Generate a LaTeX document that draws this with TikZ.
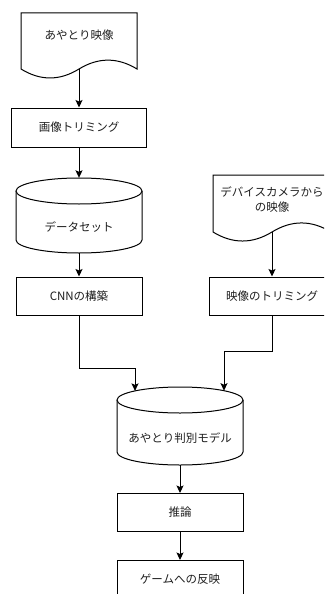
\documentclass[tikz,border=0pt]{standalone}
\usepackage{fontspec}
\newfontfamily\jp{Noto Sans CJK JP}
\usetikzlibrary{arrows.meta,calc}
\tikzset{
  shp/.style={draw=black, line width=1pt, fill=white},
  txt/.style={font=\jp\fontsize{11.5}{15}\selectfont, text=black!88, inner sep=0pt, align=center},
  boxnode/.style={shp, txt, rectangle, minimum width=126pt, minimum height=38pt},
  holder/.style={draw=none, inner sep=0pt, minimum width=126pt},
  arr/.style={draw=black, line width=1pt, -{Stealth[length=7.5pt, width=7pt, inset=1.5pt]}},
}
\begin{document}
\begin{tikzpicture}[x=1pt, y=-1pt]
\useasboundingbox (0,0) rectangle (324,594);
\clip (0,0) rectangle (324,594);
\fill[white] (0,0) rectangle (324,594);

% document 1
\draw[shp] (21,13) -- (137,13) -- (137,69)
  .. controls (117.67,57.19) and (98.33,57.19) .. (79,69)
  .. controls (59.67,80.95) and (40.33,80.95) .. (21,69) -- cycle;
\node[txt] (d1) at (79,35) {あやとり映像};
\coordinate (d1out) at (79,69);

% box 1
\node[boxnode, minimum width=135pt, minimum height=39pt] (b1) at (79,127.5) {画像トリミング};

% cylinder 1
\draw[shp] (16,191) -- (16,240) arc[start angle=180, end angle=360, x radius=63pt, y radius=13pt] -- (142,191);
\draw[shp] (79,191) ellipse [x radius=63pt, y radius=13pt];
\node[holder, minimum height=75pt] (c1) at (79,215.5) {};
\node[txt] (c1t) at (79,227.5) {データセット};

% CNN box
\node[boxnode] (cnn) at (79,296) {CNNの構築};

% document 2
\draw[shp] (213,175) -- (331,175) -- (331,232)
  .. controls (311.33,219.93) and (291.67,219.93) .. (272,232)
  .. controls (252.33,244.03) and (232.67,244.03) .. (213,232) -- cycle;
\node[txt] (d2) at (272,199.5) {デバイスカメラから\\の映像};
\coordinate (d2out) at (272,232);

% trimming box
\node[boxnode] (trim) at (272,296) {映像のトリミング};

% model cylinder
\draw[shp] (117,400) -- (117,452) arc[start angle=180, end angle=360, x radius=63pt, y radius=13pt] -- (243,400);
\draw[shp] (180,400) ellipse [x radius=63pt, y radius=13pt];
\node[holder, minimum height=78pt] (m) at (180,426) {};
\node[txt] (mt) at (180,438.5) {あやとり判別モデル};
\coordinate (m1in) at (135,390.9);
\coordinate (m2in) at (224,390.7);

% inference and game boxes
\node[boxnode] (inf) at (180,512.5) {推論};
\node[boxnode] (game) at (180,579.5) {ゲームへの反映};

% connectors
\draw[arr] (d1out) -- (b1.north);
\draw[arr] (b1.south) -- (c1.north);
\draw[arr] (c1.south) -- (cnn.north);
\draw[arr] (d2out) -- (trim.north);
\draw[arr] (cnn.south) -- ++(0,53) -| (m1in);
\draw[arr] (trim.south) -- ++(0,36) -| (m2in);
\draw[arr] (m.south) -- (inf.north);
\draw[arr] (inf.south) -- (game.north);
\end{tikzpicture}
\end{document}
